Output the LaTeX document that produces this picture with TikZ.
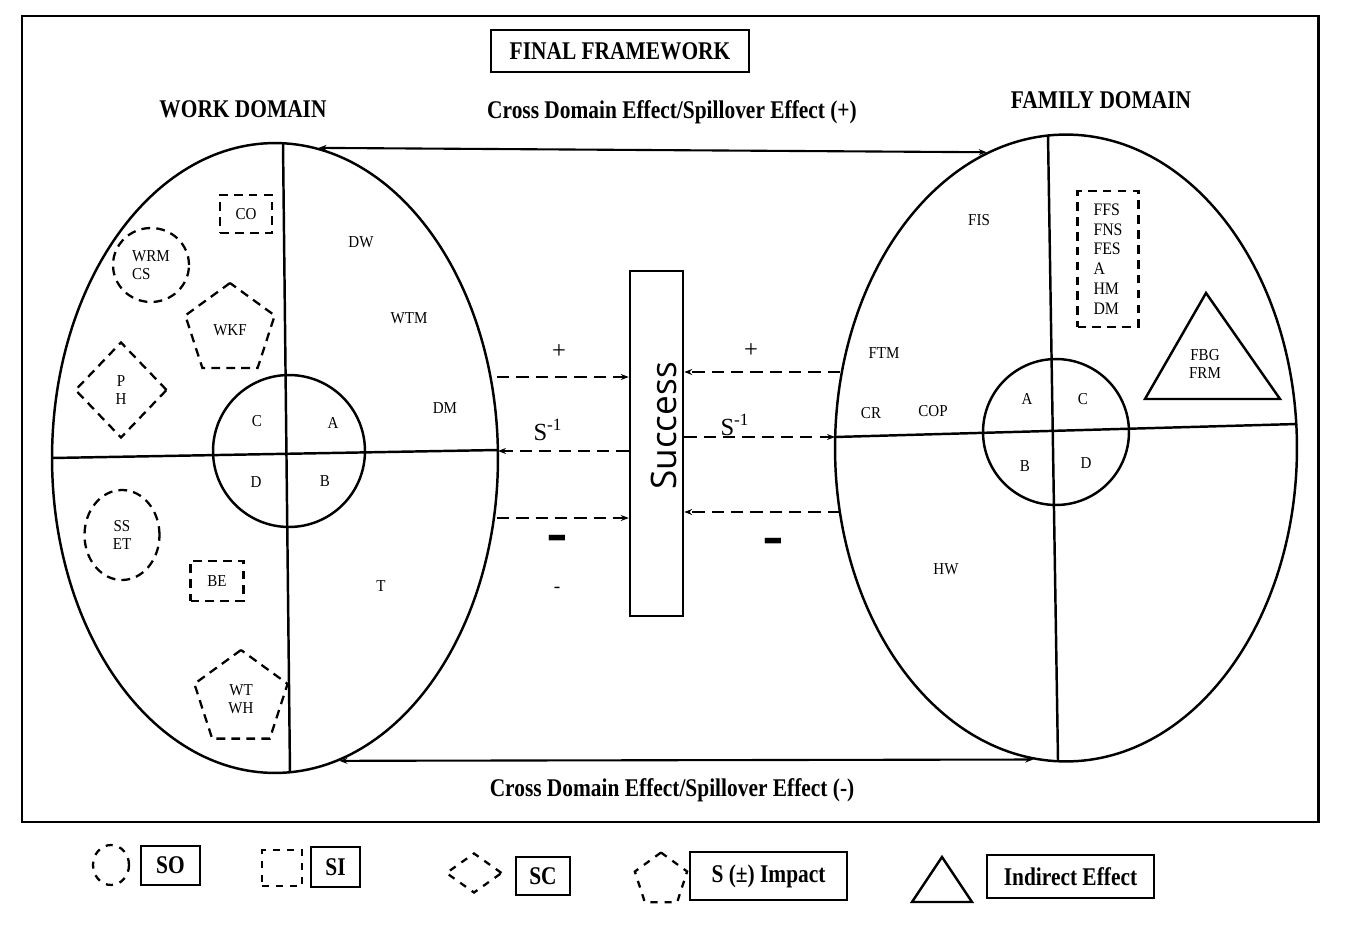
\documentclass[tikz,border=0pt]{standalone}
\usepackage{fontspec}
\usepackage{graphicx}
\setmainfont{Liberation Serif}
\newfontfamily\headfont[FakeStretch=0.84]{Liberation Serif}
\newfontfamily\labfont[FakeStretch=0.9]{Liberation Serif}
\newfontfamily\succfont{Open Sans}
\usepackage{tikz}
\usetikzlibrary{arrows.meta,shapes.geometric}

\begin{document}
\begin{tikzpicture}[x=0.02cm,y=-0.02cm,>={Stealth[length=1.6mm]},
  head/.style={font=\headfont\bfseries\fontsize{14.5}{16}\selectfont,inner sep=0pt},
  lab/.style={font=\labfont\fontsize{9.5}{10.5}\selectfont,inner sep=0pt,align=center},
  dsh/.style={draw,line width=1.3pt,dash pattern=on 5pt off 3.5pt,inner sep=0pt},
  ldsh/.style={draw,line width=1.3pt,dash pattern=on 4pt off 4pt,inner sep=0pt},
  legbox/.style={head,draw,line width=1pt},
  thick line/.style={line width=1.4pt},
  darr/.style={->,line width=1.4pt,dash pattern=on 7pt off 4pt},
  sign/.style={font=\fontsize{14}{16}\selectfont,inner sep=0pt}]
  \fill[white] (0,0) rectangle (1347,933);
  \useasboundingbox (0,0) rectangle (1347,933);
  \draw[line width=1.7pt] (22,16) rectangle (1318,822);

  \node[head,draw,line width=1pt,minimum width=5.16cm,minimum height=0.84cm] (title) at (620,51) {FINAL FRAMEWORK};
  \node[head] (workt) at (243,109) {WORK DOMAIN};
  \node[head] (famt) at (1101,100) {FAMILY DOMAIN};
  \node[head] (spillp) at (672,112) {Cross Domain Effect/Spillover Effect (+)};
  \node[head] (spillm) at (672,790) {Cross Domain Effect/Spillover Effect (-)};

  \node[ellipse,draw,thick line,minimum width=8.92cm,minimum height=12.6cm] (work) at (275,458) {};
  \node[ellipse,draw,thick line,minimum width=9.24cm,minimum height=12.54cm] (fam) at (1066,448) {};
  \draw[thick line] (283,143) -- (290,773);
  \draw[thick line] (52,458) -- (498,450);
  \draw[thick line] (1048,135) -- (1058,760);
  \draw[thick line] (835,437) -- (1297,424);
  \node[circle,draw,thick line,minimum size=3.04cm] (wcore) at (289,451) {};
  \node[circle,draw,thick line,minimum size=2.92cm] (fcore) at (1056,432) {};

  \node[lab] (wc) at (257,421) {C};
  \node[lab] (wa) at (333,423) {A};
  \node[lab] (wd) at (256,482) {D};
  \node[lab] (wb) at (325,481) {B};
  \node[lab] (fa) at (1027,399) {A};
  \node[lab] (fc) at (1083,399) {C};
  \node[lab] (fb) at (1025,466) {B};
  \node[lab] (fd) at (1086,463) {D};

  \node[lab] (dw) at (361,242) {DW};
  \node[lab] (wtm) at (409,318) {WTM};
  \node[lab] (dm) at (445,408) {DM};
  \node[lab] (t) at (381,586) {T};
  \node[lab,dsh,minimum width=1.04cm,minimum height=0.76cm] (co) at (246,214) {CO};
  \node[lab,dsh,ellipse,align=left,minimum width=1.52cm,minimum height=1.48cm] (wrm) at (151,265) {WRM\\CS};
  \node[lab,dsh,regular polygon,regular polygon sides=5,minimum size=1.88cm] (wkf) at (230,330) {WKF};
  \node[lab,dsh,diamond,minimum width=1.84cm,minimum height=1.92cm] (ph) at (121,390) {P\\H};
  \node[lab,dsh,ellipse,minimum width=1.5cm,minimum height=1.8cm] (sset) at (122,535) {SS\\ET};
  \node[lab,dsh,minimum width=1.06cm,minimum height=0.8cm] (be) at (217,581) {BE};
  \node[lab,dsh,regular polygon,regular polygon sides=5,minimum size=1.96cm] (wtwh) at (241,699) {WT\\WH};

  \node[lab] (fis) at (979,220) {FIS};
  \node[lab] (ftm) at (884,353) {FTM};
  \node[lab] (cr) at (871,413) {CR};
  \node[lab] (cop) at (933,411) {COP};
  \node[lab] (hw) at (946,569) {HW};
  \node[lab,dsh,align=left,font=\labfont\fontsize{10}{11.3}\selectfont,minimum width=1.22cm,minimum height=2.72cm] (ffs) at (1108,259) {FFS\\FNS\\FES\\A\\HM\\DM};
  \draw[thick line] (1206,293) -- (1280,399) -- (1145,399) -- cycle;
  \node[lab] (fbg) at (1205,364) {FBG\\FRM};

  \node[draw,thick line,minimum width=1.06cm,minimum height=6.9cm,inner sep=0pt] (succ) at (656.5,443.5) {};
  \node[rotate=90,font=\succfont\fontsize{20}{24}\selectfont,inner sep=0pt] (succtxt) at (664,426) {Success};

  \coordinate (wp) at (497,377);
  \coordinate (ws) at (498,451);
  \coordinate (wm) at (497,518);
  \coordinate (fp) at (840,372);
  \coordinate (fs) at (835,437);
  \coordinate (fm) at (840,512);
  \draw[darr] (wp) -- (wp -| succ.west);
  \draw[darr] (succ.west |- ws) -- (ws);
  \draw[darr] (wm) -- (wm -| succ.west);
  \draw[darr] (fp) -- (fp -| succ.east);
  \draw[darr] (succ.east |- fs) -- (fs);
  \draw[darr] (fm) -- (fm -| succ.east);
  \node[sign] (wplus) at (559,352) {+};
  \node[sign] (fplus) at (751,351) {+};
  \node[sign] (ws1) at (548,430) {S\textsuperscript{-1}};
  \node[sign] (fs1) at (735,425) {S\textsuperscript{-1}};
  \node[sign] (wminus) at (557,546) {\scalebox{1}[2.5]{\bfseries\fontsize{18}{20}\selectfont –}};
  \node[sign] (fminus) at (773,549) {\scalebox{1}[2.5]{\bfseries\fontsize{18}{20}\selectfont –}};
  \node[sign,font=\fontsize{11}{12}\selectfont] (small) at (557,590) {-};

  \draw[<->,line width=1.2pt] (work.82) -- (fam.105);
  \draw[<->,line width=1.2pt] (work.-78) -- (fam.-96);

  \node[ldsh,ellipse,minimum width=0.72cm,minimum height=0.8cm] (lso) at (111,865) {};
  \node[legbox,minimum width=1.18cm,minimum height=0.78cm] (bso) at (170.5,865.5) {SO};
  \node[ldsh,minimum width=0.8cm,minimum height=0.72cm] (lsi) at (282,868) {};
  \node[legbox,minimum width=0.98cm,minimum height=0.8cm] (bsi) at (335.5,867) {SI};
  \node[ldsh,diamond,minimum width=1.12cm,minimum height=0.8cm] (lsc) at (474,873) {};
  \node[legbox,minimum width=1.08cm,minimum height=0.76cm] (bsc) at (543,876) {SC};
  \node[ldsh,regular polygon,regular polygon sides=5,minimum size=1.1cm] (lsx) at (661,880) {};
  \node[legbox,minimum width=3.14cm,minimum height=0.96cm] (bsx) at (768.5,876) {S (±) Impact};
  \draw[thick line] (942,857) -- (972,902) -- (912,902) -- cycle;
  \node[legbox,minimum width=3.34cm,minimum height=0.86cm] (bie) at (1070.5,876.5) {Indirect Effect};
\end{tikzpicture}
\end{document}
